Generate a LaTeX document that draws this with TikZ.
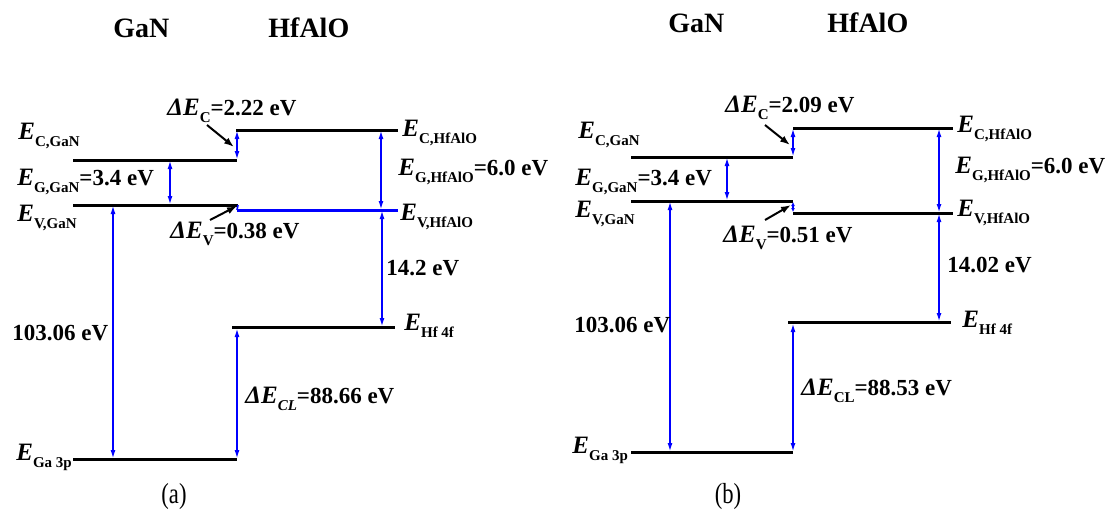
\documentclass[tikz,border=0pt]{standalone}
\usepackage{fontspec}
\setmainfont{Liberation Serif}
\usetikzlibrary{arrows.meta}
\newcommand\Lsub[1]{\raisebox{-3.6pt}{\fontsize{7.5}{8}\selectfont\bfseries #1}}
\newcommand\bigE{{\fontsize{12.5}{13}\selectfont\textit{E}}}
\newcommand\EE[1]{\bigE\Lsub{#1}}
\newcommand\DEl{{\fontsize{12.5}{13}\selectfont\textit{Δ}}\bigE}
\tikzset{
  lvl/.style={line width=1.5pt, black},
  lvlb/.style={line width=1.5pt, blue},
  bar/.style={blue, line width=0.55pt, {Latex[length=4pt,width=2.5pt]}-{Latex[length=4pt,width=2.5pt]}},
  tinybar/.style={blue, line width=0.55pt, {Latex[length=2pt,width=2pt]}-{Latex[length=2pt,width=2pt]}},
  ptr/.style={line width=1pt, -{Latex[length=5pt,width=3.6pt]}},
  lab/.style={anchor=base west, inner sep=0pt, font=\fontsize{11.5}{13}\selectfont\bfseries},
  ttl/.style={anchor=base west, inner sep=0pt, font=\fontsize{14}{16}\selectfont\bfseries},
  capt/.style={inner sep=0pt, font=\fontsize{14.5}{16}\selectfont}
}
\begin{document}
\begin{tikzpicture}[x=0.5pt, y=-0.5pt]
\useasboundingbox (0,0) rectangle (1111,525);
% ---------------- panel (a) ----------------
\coordinate (aC1L) at (73,160);  \coordinate (aC1R) at (237,160);
\coordinate (aV1L) at (73,205);  \coordinate (aV1R) at (238,205);
\coordinate (aC2L) at (236,130); \coordinate (aC2R) at (398,130);
\coordinate (aV2L) at (237,210); \coordinate (aV2R) at (398,210);
\coordinate (aHfL) at (232,327); \coordinate (aHfR) at (395,327);
\coordinate (aGaL) at (73,459);  \coordinate (aGaR) at (237,459);
\draw[lvl] (aC1L) -- (aC1R);
\draw[lvl] (aV1L) -- (aV1R);
\draw[lvl] (aC2L) -- (aC2R);
\draw[lvlb] (aV2L) -- (aV2R);
\draw[blue, line width=0.8pt] (aV1R) -- (aV2L);
\draw[lvl] (aHfL) -- (aHfR);
\draw[lvl] (aGaL) -- (aGaR);
% blue bars
\coordinate (aGt) at (170,161); \coordinate (aGb) at (170,204);
\coordinate (aDCt) at (237,131); \coordinate (aDCb) at (237,159);
\coordinate (aHGt) at (381,131); \coordinate (aHGb) at (381,209);
\coordinate (aBt) at (113,206); \coordinate (aBb) at (113,458);
\coordinate (aHt) at (382,211); \coordinate (aHb) at (382,326);
\coordinate (aCLt) at (237,329); \coordinate (aCLb) at (237,458);
\draw[bar] (aGt) -- (aGb);
\draw[bar] (aDCt) -- (aDCb);
\draw[bar] (aHGt) -- (aHGb);
\draw[bar] (aBt) -- (aBb);
\draw[bar] (aHt) -- (aHb);
\draw[bar] (aCLt) -- (aCLb);
% pointers
\coordinate (aPC1) at (207,125); \coordinate (aPC2) at (234,147);
\coordinate (aPV1) at (210,220); \coordinate (aPV2) at (237,206);
\draw[ptr] (aPC1) -- (aPC2);
\draw[ptr] (aPV1) -- (aPV2);
% labels
\node[ttl] (aT1) at (113,37) {GaN};
\node[ttl] (aT2) at (268,37) {HfAlO};
\node[lab] (aL1) at (18,139) {\EE{C,GaN}};
\node[lab] (aL2) at (17,185) {\EE{G,GaN}=3.4 eV};
\node[lab] (aL3) at (17,221) {\EE{V,GaN}};
\node[lab] (aL4) at (167,115) {\DEl\Lsub{C}=2.22 eV};
\node[lab] (aL5) at (402,136) {\EE{C,HfAlO}};
\node[lab] (aL6) at (398,175) {\EE{G,HfAlO}=6.0 eV};
\node[lab] (aL7) at (400,220) {\EE{V,HfAlO}};
\node[lab] (aL8) at (170,238) {\DEl\Lsub{V}=0.38 eV};
\node[lab] (aL9) at (386,275) {14.2 eV};
\node[lab] (aL10) at (12,340) {103.06 eV};
\node[lab] (aL11) at (404,330) {\EE{Hf 4f}};
\node[lab] (aL12) at (245,403) {\DEl\Lsub{\itshape CL}=88.66 eV};
\node[lab] (aL13) at (16,460) {\EE{Ga 3p}};
\node[capt] (aCap) at (174,497) {\scalebox{0.78}[1]{(a)}};
% ---------------- panel (b) ----------------
\coordinate (bC1L) at (631,157);  \coordinate (bC1R) at (793,157);
\coordinate (bV1L) at (631,201);  \coordinate (bV1R) at (793,201);
\coordinate (bC2L) at (793,128);  \coordinate (bC2R) at (953,128);
\coordinate (bV2L) at (793,213);  \coordinate (bV2R) at (953,213);
\coordinate (bHfL) at (788,322);  \coordinate (bHfR) at (951,322);
\coordinate (bGaL) at (631,452);  \coordinate (bGaR) at (793,452);
\draw[lvl] (bC1L) -- (bC1R);
\draw[lvl] (bV1L) -- (bV1R);
\draw[lvl] (bC2L) -- (bC2R);
\draw[lvl] (bV2L) -- (bV2R);
\draw[lvl] (bHfL) -- (bHfR);
\draw[lvl] (bGaL) -- (bGaR);
\coordinate (bGt) at (727,158); \coordinate (bGb) at (727,200);
\coordinate (bDCt) at (793,129); \coordinate (bDCb) at (793,156);
\coordinate (bDVt) at (793,202); \coordinate (bDVb) at (793,212);
\coordinate (bHGt) at (939,129); \coordinate (bHGb) at (939,212);
\coordinate (bBt) at (670,202); \coordinate (bBb) at (670,451);
\coordinate (bHt) at (939,214); \coordinate (bHb) at (939,321);
\coordinate (bCLt) at (793,324); \coordinate (bCLb) at (793,451);
\draw[bar] (bGt) -- (bGb);
\draw[bar] (bDCt) -- (bDCb);
\draw[tinybar] (bDVt) -- (bDVb);
\draw[bar] (bHGt) -- (bHGb);
\draw[bar] (bBt) -- (bBb);
\draw[bar] (bHt) -- (bHb);
\draw[bar] (bCLt) -- (bCLb);
\coordinate (bPC1) at (765,125); \coordinate (bPC2) at (790,145);
\coordinate (bPV1) at (765,220); \coordinate (bPV2) at (791,205);
\draw[ptr] (bPC1) -- (bPC2);
\draw[ptr] (bPV1) -- (bPV2);
\node[ttl] (bT1) at (668,32) {GaN};
\node[ttl] (bT2) at (827,32) {HfAlO};
\node[lab] (bL1) at (578,138) {\EE{C,GaN}};
\node[lab] (bL2) at (575,185) {\EE{G,GaN}=3.4 eV};
\node[lab] (bL3) at (575,217) {\EE{V,GaN}};
\node[lab] (bL4) at (725,112) {\DEl\Lsub{C}=2.09 eV};
\node[lab] (bL5) at (957,132) {\EE{C,HfAlO}};
\node[lab] (bL6) at (955,173) {\EE{G,HfAlO}=6.0 eV};
\node[lab] (bL7) at (957,216) {\EE{V,HfAlO}};
\node[lab] (bL8) at (723,242) {\DEl\Lsub{V}=0.51 eV};
\node[lab] (bL9) at (947,272) {14.02 eV};
\node[lab] (bL10) at (574,332) {103.06 eV};
\node[lab] (bL11) at (962,327) {\EE{Hf 4f}};
\node[lab] (bL12) at (801,395) {\DEl\Lsub{CL}=88.53 eV};
\node[lab] (bL13) at (572,453) {\EE{Ga 3p}};
\node[capt] (bCap) at (728,497) {\scalebox{0.78}[1]{(b)}};
\end{tikzpicture}
\end{document}
